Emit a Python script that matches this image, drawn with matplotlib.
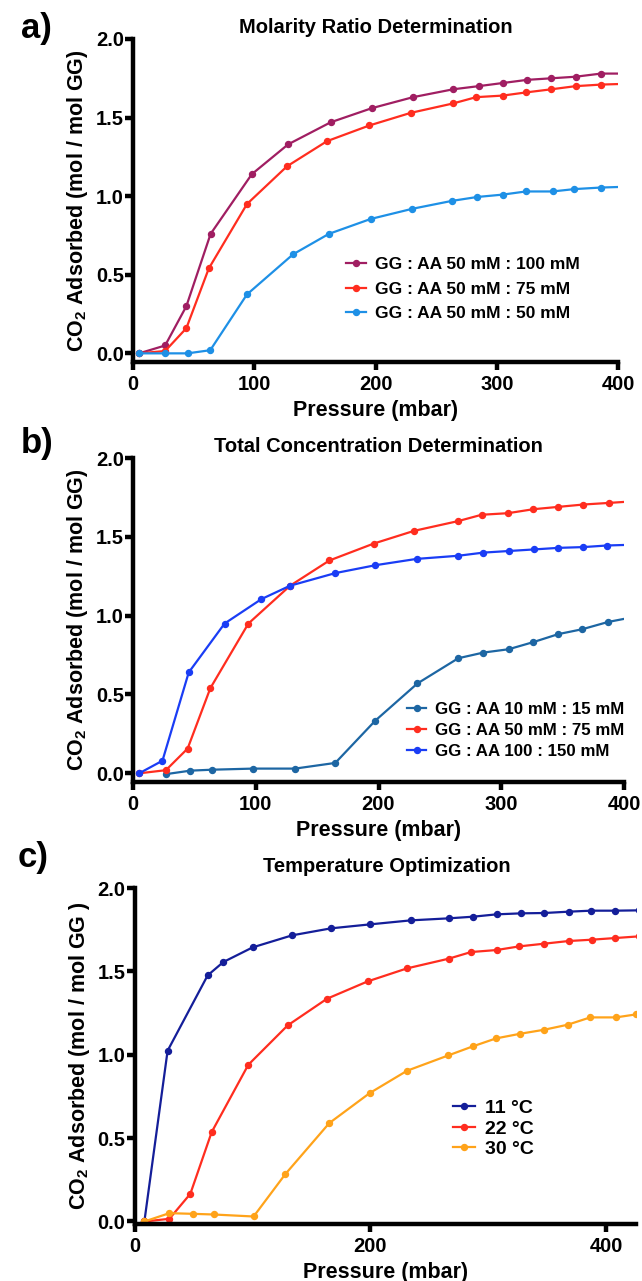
import matplotlib
matplotlib.use("Agg")
import matplotlib.pyplot as plt
from matplotlib.lines import Line2D

plt.rcParams['font.family'] = ['Liberation Sans', 'DejaVu Sans']
plt.rcParams['font.weight'] = 'bold'
plt.rcParams['mathtext.default'] = 'regular'

# ---------------- Panel a data ----------------
a_x_100 = [5, 26.5, 44, 64, 98, 128, 163, 197, 231, 264, 285, 305, 325, 345, 365, 386, 407]
a_y_100 = [0.0, 0.05, 0.30, 0.76, 1.14, 1.33, 1.47, 1.56, 1.63, 1.68, 1.70, 1.72, 1.74, 1.75, 1.76, 1.78, 1.78]
a_x_75 = [5, 26.5, 44, 62.5, 94, 127, 160, 195, 229, 264, 283, 305, 324, 345, 365, 386, 407]
a_y_75 = [0.0, 0.015, 0.16, 0.54, 0.95, 1.19, 1.35, 1.45, 1.53, 1.59, 1.63, 1.64, 1.66, 1.68, 1.70, 1.71, 1.715]
a_x_50 = [5, 26.5, 45, 63.7, 94, 132, 161.5, 196, 230.5, 263, 284, 305, 324, 346, 364, 386, 407]
a_y_50 = [0.0, 0.0, 0.0, 0.02, 0.375, 0.63, 0.76, 0.855, 0.92, 0.97, 0.995, 1.01, 1.03, 1.03, 1.045, 1.055, 1.06]
a_labels = ['GG : AA 50 mM : 100 mM', 'GG : AA 50 mM : 75 mM', 'GG : AA 50 mM : 50 mM']
a_colors = ['#A01E62', '#FF2D1F', '#1E90E6']

# ---------------- Panel b data ----------------
b_x_10 = [27, 46.7, 64.5, 97.8, 132, 164.8, 197.5, 231.7, 265, 285.5, 306, 326, 346.5, 366, 387, 407]
b_y_10 = [-0.005, 0.017, 0.023, 0.03, 0.03, 0.066, 0.335, 0.57, 0.73, 0.766, 0.787, 0.832, 0.883, 0.914, 0.96, 0.99]
b_x_50 = [5, 26.8, 44.5, 63, 94, 128, 160, 196, 229, 265, 284, 305.5, 326, 346.5, 367, 387.5, 407]
b_y_50 = [0.0, 0.02, 0.157, 0.54, 0.95, 1.19, 1.35, 1.457, 1.538, 1.60, 1.64, 1.65, 1.675, 1.69, 1.705, 1.715, 1.725]
b_x_100 = [5, 24, 45.4, 74.6, 104.6, 128, 164.8, 197.5, 231, 265, 285.5, 306, 326.5, 346.5, 367, 386, 407]
b_y_100 = [0.0, 0.08, 0.64, 0.95, 1.105, 1.19, 1.27, 1.32, 1.36, 1.38, 1.40, 1.41, 1.42, 1.43, 1.435, 1.445, 1.45]
b_labels = ['GG : AA 10 mM : 15 mM', 'GG : AA 50 mM : 75 mM', 'GG : AA 100 : 150 mM']
b_colors = ['#1D66A3', '#FF2D1F', '#1A3DF5']

# ---------------- Panel c data ----------------
c_x_11 = [8.3, 28, 62, 75.3, 100.2, 133.6, 166.6, 200, 234.5, 266.5, 287.4, 307.2, 328, 347.6, 368.3, 387.3, 408, 428]
c_y_11 = [0.0, 1.024, 1.476, 1.556, 1.644, 1.716, 1.758, 1.782, 1.806, 1.818, 1.828, 1.842, 1.848, 1.85, 1.858, 1.864, 1.864, 1.866]
c_x_22 = [8.3, 29.5, 47.3, 65.4, 96.5, 129.9, 163.3, 197.8, 231.2, 266.5, 285.5, 307.2, 326.5, 347.6, 368.3, 388, 408, 428]
c_y_22 = [0.0, 0.016, 0.166, 0.536, 0.94, 1.176, 1.336, 1.44, 1.518, 1.576, 1.616, 1.628, 1.65, 1.666, 1.682, 1.69, 1.70, 1.71]
c_x_30 = [8.3, 29.5, 49.3, 67.1, 101, 127.9, 165.2, 199.5, 231.2, 266.2, 286.9, 306.7, 327.3, 347.6, 367.5, 386.7, 408.5, 425.5]
c_y_30 = [0.0, 0.05, 0.046, 0.042, 0.03, 0.284, 0.59, 0.77, 0.904, 0.996, 1.05, 1.098, 1.126, 1.15, 1.18, 1.224, 1.224, 1.242]
c_labels = ['11 \u00b0C', '22 \u00b0C', '30 \u00b0C']
c_colors = ['#141E99', '#FF2D1F', '#FFA31A']

titles = ['Molarity Ratio Determination', 'Total Concentration Determination', 'Temperature Optimization']
panel_letters = ['a)', 'b)', 'c)']
ylabels = ['CO$_2$ Adsorbed (mol / mol GG)', 'CO$_2$ Adsorbed (mol / mol GG)', 'CO$_2$ Adsorbed (mol / mol GG )']
xlabel = 'Pressure (mbar)'

W, H = 642, 1281
fig = plt.figure(figsize=(W / 100, H / 100), dpi=100)


def px_rect(left, right, top, bottom):
    return [left / W, 1 - bottom / H, (right - left) / W, (bottom - top) / H]


def style(ax, xmax, xticks, ymin):
    for s in ['top', 'right']:
        ax.spines[s].set_visible(False)
    for s in ['left', 'bottom']:
        ax.spines[s].set_linewidth(3.2)
        ax.spines[s].set_capstyle('projecting')
    ax.set_xlim(0, xmax)
    ax.set_ylim(ymin, 2.0)
    ax.set_xticks(xticks)
    ax.set_xticklabels([str(t) for t in xticks])
    ax.set_yticks([0.0, 0.5, 1.0, 1.5, 2.0])
    ax.set_yticklabels(['0.0', '0.5', '1.0', '1.5', '2.0'])
    ax.tick_params(axis='both', direction='out', length=5.5, width=3.2,
                   labelsize=14.5, colors='black')
    ax.tick_params(axis='y', pad=1)
    ax.tick_params(axis='x', pad=3.5)
    for lab in ax.get_xticklabels() + ax.get_yticklabels():
        lab.set_fontweight('bold')
    ax.set_xlabel(xlabel, fontsize=15.5, fontweight='bold', labelpad=5)


def series(ax, x, y, c):
    ax.plot(x, y, color=c, lw=1.6, marker='o', ms=4.3, mec=c, mfc=c)


# Panel a
axa = fig.add_axes(px_rect(133, 618, 39, 362))
for x, y, c in zip([a_x_100, a_x_75, a_x_50], [a_y_100, a_y_75, a_y_50], a_colors):
    series(axa, x, y, c)
style(axa, 400, [0, 100, 200, 300, 400], -0.055)

# Panel b
axb = fig.add_axes(px_rect(133, 624, 458, 782))
for x, y, c in zip([b_x_10, b_x_50, b_x_100], [b_y_10, b_y_50, b_y_100], b_colors):
    series(axb, x, y, c)
style(axb, 400, [0, 100, 200, 300, 400], -0.055)

# Panel c
axc = fig.add_axes(px_rect(134.6, 636, 888, 1224))
for x, y, c in zip([c_x_11, c_x_22, c_x_30], [c_y_11, c_y_22, c_y_30], c_colors):
    series(axc, x, y, c)
style(axc, 425.5, [0, 200, 400], -0.015)

axes = [axa, axb, axc]
for ax, yl in zip(axes, ylabels):
    ax.set_ylabel(yl, fontsize=15.5, fontweight='bold', labelpad=4)

# titles and panel letters
title_pos = [(375.5, 33), (378.5, 452), (387, 872)]
for (tx, ty), t in zip(title_pos, titles):
    fig.text(tx / W, 1 - ty / H, t, ha='center', va='baseline', fontsize=14.5, fontweight='bold')
letter_pos = [(21, 38), (21, 453), (18, 867)]
for (lx, ly), t in zip(letter_pos, panel_letters):
    fig.text(lx / W, 1 - ly / H, t, ha='left', va='baseline', fontsize=25, fontweight='bold')


def make_legend(ax, labels, colors, anchor_px, fs, spacing):
    handles = [Line2D([0], [0], color=c, lw=1.6, marker='o', ms=4.3) for c in colors]
    leg = ax.legend(handles, labels, loc='center left', frameon=False,
                    bbox_to_anchor=(anchor_px[0] / W, 1 - anchor_px[1] / H),
                    bbox_transform=fig.transFigure, borderpad=0, borderaxespad=0,
                    handlelength=1.15, handletextpad=0.5, labelspacing=spacing,
                    prop={'size': fs, 'weight': 'bold'})
    return leg


make_legend(axa, a_labels, a_colors, (346, 289), 12.5, 0.52)
make_legend(axb, b_labels, b_colors, (407, 730.7), 12.2, 0.36)
make_legend(axc, c_labels, c_colors, (453, 1128.7), 14, 0.15)

fig.savefig('out.png', dpi=100)
